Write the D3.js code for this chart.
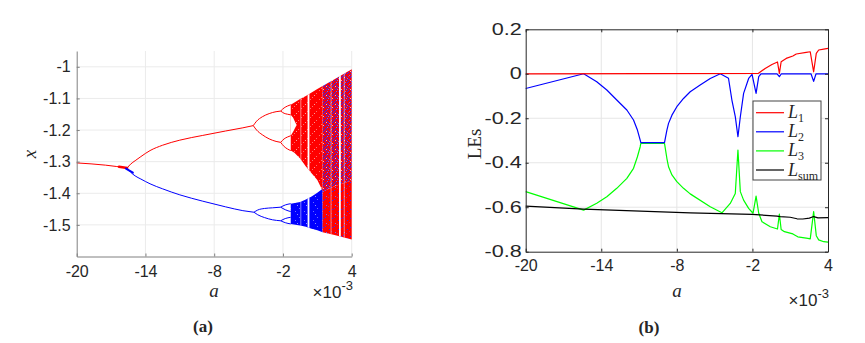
<!DOCTYPE html>
<html>
<head>
<meta charset="utf-8">
<script src="https://cdn.jsdelivr.net/npm/d3@7"></script>
<style>
body { margin: 0; background: #fff; }
svg { display: block; }
.tick text { font-family: "Liberation Sans", Arial, sans-serif; font-size: 16px; fill: #262626; }
.lbl { font-family: "Liberation Serif", "Times New Roman", serif; fill: #262626; }
.sans { font-family: "Liberation Sans", Arial, sans-serif; fill: #262626; }
</style>
</head>
<body>
<svg width="865" height="343"></svg>
<script>
const svg = d3.select('svg');

// ---------- data ----------
const xTicks = [-20, -14, -8, -2, 4];
const bifYTicks = [-1.5, -1.4, -1.3, -1.2, -1.1, -1];
const lesYTicks = [-0.8, -0.6, -0.4, -0.2, 0, 0.2];

// periodic branches of the bifurcation diagram, [a (x1e-3), x]
const redP1 = [[-20, -1.304], [-17.5, -1.311], [-15.6, -1.32]];
const redP2 = [[-15.6, -1.32], [-15.3, -1.308], [-14.9, -1.297], [-14.4, -1.284], [-13.6, -1.265],
  [-12.5, -1.248], [-11, -1.232], [-9, -1.217], [-7, -1.203], [-5.5, -1.193], [-4.59, -1.186]];
const redP4a = [[-4.59, -1.186], [-4.3, -1.172], [-3.8, -1.158], [-3.2, -1.148], [-2.6, -1.142], [-2.2, -1.14]];
const redP4b = [[-4.59, -1.186], [-4.3, -1.2], [-3.8, -1.215], [-3.2, -1.228], [-2.6, -1.236], [-2.2, -1.239]];
const redP8a = [[-2.2, -1.14], [-1.9, -1.13], [-1.6, -1.124], [-1.32, -1.12]];
const redP8b = [[-2.2, -1.14], [-1.9, -1.147], [-1.6, -1.15], [-1.32, -1.152]];
const redP8c = [[-2.2, -1.239], [-1.9, -1.228], [-1.6, -1.222], [-1.32, -1.218]];
const redP8d = [[-2.2, -1.239], [-1.9, -1.252], [-1.6, -1.26], [-1.32, -1.265]];
const redKnot = [[-16.3, -1.316], [-15.6, -1.32]];

const blueP2 = [[-15.6, -1.32], [-15.3, -1.333], [-14.9, -1.345], [-14.4, -1.355], [-13.6, -1.37],
  [-12.5, -1.386], [-11, -1.405], [-9, -1.425], [-7, -1.443], [-5.5, -1.455], [-4.53, -1.46]];
const blueP4a = [[-4.53, -1.46], [-4.2, -1.453], [-3.6, -1.448], [-2.9, -1.446], [-2.2, -1.444]];
const blueP4b = [[-4.53, -1.46], [-4.2, -1.468], [-3.6, -1.477], [-2.9, -1.484], [-2.2, -1.487]];
const blueP8a = [[-2.2, -1.444], [-1.8, -1.437], [-1.32, -1.433]];
const blueP8b = [[-2.2, -1.444], [-1.8, -1.452], [-1.32, -1.458]];
const blueP8c = [[-2.2, -1.487], [-1.8, -1.48], [-1.32, -1.476]];
const blueP8d = [[-2.2, -1.487], [-1.8, -1.493], [-1.32, -1.497]];
const blueKnot = [[-15.7, -1.322], [-15.1, -1.335]];

// chaotic bands, [a, upper edge, lower edge]
const redBand = [[-1.32, -1.12, -1.265], [-1.0, -1.113, -1.272], [-0.5, -1.102, -1.29], [0, -1.092, -1.315],
  [0.5, -1.081, -1.337], [1.0, -1.07, -1.358], [1.46, -1.061, -1.392]];
const redHole = [[-1.32, -1.152, -1.218], [-1.1, -1.162, -1.205], [-0.9, -1.178, -1.19], [-0.8, -1.184, -1.184]];
const blueBand = [[-1.32, -1.433, -1.497], [-0.5, -1.428, -1.502], [0, -1.42, -1.506], [0.5, -1.41, -1.512],
  [1.0, -1.398, -1.517], [1.46, -1.386, -1.523]];
const mixUpper = [[1.46, -1.061, -1.395], [2.5, -1.039, -1.378], [4, -1.008, -1.36]];
const mixLower = [[1.46, -1.395, -1.523], [2.5, -1.378, -1.532], [4, -1.36, -1.546]];
const windowsMain = [0.23, 2.97];
const windowsFaint = [-0.44, 2.2, 3.35];

// Lyapunov exponents, [a (x1e-3), value]
const L1 = [[-20, 0], [-1.52, 0.002], [-0.99, 0.024], [-0.45, 0.042], [-0.01, 0.053], [0.14, 0.002],
  [0.28, 0.054], [0.68, 0.069], [1.21, 0.08], [1.48, 0.089], [2.27, 0.096], [2.59, 0.099], [2.86, 0.009],
  [3.07, 0.092], [3.26, 0.107], [3.66, 0.111], [4, 0.114]];
const L2 = [[-20, -0.066], [-15.4, 0], [-14.36, -0.036], [-13.56, -0.073], [-12.77, -0.118], [-11.97, -0.163],
  [-11.44, -0.208], [-11.13, -0.253], [-10.91, -0.298], [-10.86, -0.31], [-8.98, -0.31], [-8.79, -0.253],
  [-8.66, -0.223], [-8.39, -0.186], [-8.0, -0.148], [-7.47, -0.111], [-6.94, -0.081], [-6.15, -0.051],
  [-5.35, -0.021], [-4.55, 0], [-3.9, -0.02], [-3.63, -0.118], [-3.36, -0.193], [-3.15, -0.283],
  [-2.96, -0.193], [-2.7, -0.088], [-2.3, -0.021], [-2.03, -0.003], [-1.71, -0.088], [-1.5, -0.013],
  [-1.32, 0], [-0.05, 0], [0.14, -0.013], [0.3, 0], [2.65, 0], [2.86, -0.034], [3.05, 0], [4, 0]];
const L3 = [[-20, -0.53], [-15.4, -0.613], [-14.36, -0.582], [-13.56, -0.553], [-12.77, -0.515],
  [-11.97, -0.47], [-11.44, -0.425], [-11.13, -0.373], [-10.91, -0.328], [-10.86, -0.313], [-8.98, -0.313],
  [-8.79, -0.381], [-8.66, -0.418], [-8.39, -0.455], [-8.0, -0.485], [-7.47, -0.515], [-6.94, -0.54],
  [-5.35, -0.598], [-4.42, -0.625], [-3.76, -0.583], [-3.36, -0.538], [-3.15, -0.343], [-2.96, -0.53],
  [-2.7, -0.568], [-2.3, -0.605], [-1.95, -0.627], [-1.71, -0.55], [-1.5, -0.627], [-1.24, -0.665],
  [-0.58, -0.688], [-0.01, -0.698], [0.14, -0.631], [0.28, -0.7], [0.54, -0.71], [1.21, -0.72],
  [1.6, -0.733], [2.4, -0.74], [2.59, -0.742], [2.86, -0.62], [3.07, -0.728], [3.26, -0.747],
  [3.66, -0.755], [4, -0.757]];
const Lsum = [[-20, -0.595], [-15.4, -0.609], [-6.94, -0.625], [-2.03, -0.632], [-0.05, -0.64],
  [0.2, -0.642], [1.0, -0.645], [1.54, -0.652], [2.0, -0.653], [2.52, -0.649], [2.86, -0.642],
  [3.2, -0.648], [4, -0.647]];

const legendNames = [['L', '1'], ['L', '2'], ['L', '3'], ['L', 'sum']];
const lesColors = ['#ff0000', '#0000ff', '#00ff00', '#000000'];

// ---------- helpers ----------
const fmt = d => String(d);

const defs = svg.append('defs');
// speckle textures for the chaotic bands (9x9 tiles)
const texture = (id, bg, dots) => {
  const p = defs.append('pattern').attr('id', id)
    .attr('patternUnits', 'userSpaceOnUse').attr('width', 9).attr('height', 9);
  p.append('rect').attr('width', 9).attr('height', 9).attr('fill', bg);
  dots.forEach(([x, y, c]) => p.append('rect').attr('x', x).attr('y', y)
    .attr('width', 1).attr('height', 1).attr('fill', c));
};
const P = '#ff6a6a', B = '#2a2aff', LB = '#6a6aff', PB = '#b03080';
texture('redTex', '#ff0000', [[1, 3, P], [6, 7, P], [4, 0, P], [8, 5, '#ff9a9a']]);
texture('blueTex', '#0000ff', [[2, 1, LB], [7, 4, LB], [0, 7, '#8c8cff']]);
texture('mixTex', '#f00010', [[0, 0, B], [5, 1, B], [2, 2, B], [7, 3, LB], [3, 4, B], [8, 5, B], [1, 6, B],
  [6, 7, B], [4, 8, LB], [6, 0, B], [1, 3, B], [4, 5, B], [3, 1, LB], [8, 2, B], [0, 4, B], [5, 6, LB],
  [2, 8, B], [7, 7, PB], [3, 7, B], [6, 4, PB], [8, 8, '#ffb0b0'], [2, 5, '#ffb0b0']]);
texture('mixLowTex', '#ff0000', [[1, 1, B], [5, 4, B], [2, 7, LB], [7, 6, PB], [8, 2, B], [4, 8, PB]]);

// ---------- (a) bifurcation diagram ----------
const xA = d3.scaleLinear().domain([-20, 4]).range([76.7, 351.7]);
const yA = d3.scaleLinear().domain([-1.6, -0.95]).range([256.5, 51]);

const gA = svg.append('g');

gA.append('g').selectAll('line').data(xTicks.slice(1)).enter().append('line')
  .attr('x1', d => xA(d)).attr('x2', d => xA(d))
  .attr('y1', yA.range()[0]).attr('y2', yA.range()[1])
  .attr('stroke', '#ebebeb').attr('stroke-width', 1);
gA.append('g').selectAll('line').data(bifYTicks).enter().append('line')
  .attr('x1', xA.range()[0]).attr('x2', xA.range()[1])
  .attr('y1', d => yA(d)).attr('y2', d => yA(d))
  .attr('stroke', '#ebebeb').attr('stroke-width', 1);

const bandArea = d3.area().x(d => xA(d[0])).y0(d => yA(d[2])).y1(d => yA(d[1]));
const branchLine = d3.line().x(d => xA(d[0])).y(d => yA(d[1])).curve(d3.curveMonotoneX);

const clip = defs.append('clipPath').attr('id', 'bands');
[redBand, blueBand, mixUpper, mixLower].forEach(b => clip.append('path').attr('d', bandArea(b)));

gA.append('path').attr('d', bandArea(redBand)).attr('fill', 'url(#redTex)');
gA.append('path').attr('d', bandArea(redHole)).attr('fill', '#fff');
gA.append('path').attr('d', bandArea(blueBand)).attr('fill', 'url(#blueTex)');
gA.append('path').attr('d', bandArea(mixUpper)).attr('fill', 'url(#mixTex)');
gA.append('path').attr('d', bandArea(mixLower)).attr('fill', 'url(#mixLowTex)');

const win = gA.append('g').attr('clip-path', 'url(#bands)');
win.selectAll('.wm').data(windowsMain).enter().append('line')
  .attr('x1', d => xA(d)).attr('x2', d => xA(d))
  .attr('y1', yA.range()[0]).attr('y2', yA.range()[1])
  .attr('stroke', '#fff').attr('stroke-width', 1.8);
win.selectAll('.wf').data(windowsFaint).enter().append('line')
  .attr('x1', d => xA(d)).attr('x2', d => xA(d))
  .attr('y1', yA.range()[0]).attr('y2', yA.range()[1])
  .attr('stroke', '#fff').attr('stroke-width', 1).attr('opacity', 0.5);

gA.selectAll('.rb').data([redP1, redP2, redP4a, redP4b, redP8a, redP8b, redP8c, redP8d]).enter()
  .append('path').attr('d', branchLine)
  .attr('fill', 'none').attr('stroke', '#ff0000').attr('stroke-width', 1);
gA.selectAll('.bb').data([blueP2, blueP4a, blueP4b, blueP8a, blueP8b, blueP8c, blueP8d]).enter()
  .append('path').attr('d', branchLine)
  .attr('fill', 'none').attr('stroke', '#0000ff').attr('stroke-width', 1);
gA.append('path').attr('d', branchLine(redKnot)).attr('fill', 'none')
  .attr('stroke', '#ff0000').attr('stroke-width', 2.6).attr('stroke-linecap', 'round');
gA.append('path').attr('d', branchLine(blueKnot)).attr('fill', 'none')
  .attr('stroke', '#0000ff').attr('stroke-width', 2).attr('stroke-linecap', 'round');

const xAxisA = gA.append('g').attr('transform', `translate(0,${yA.range()[0]})`)
  .call(d3.axisBottom(xA).tickValues(xTicks).tickFormat(fmt).tickSizeInner(-3).tickSizeOuter(0).tickPadding(9));
const yAxisA = gA.append('g').attr('transform', `translate(${xA.range()[0]},0)`)
  .call(d3.axisLeft(yA).tickValues(bifYTicks).tickFormat(fmt).tickSizeInner(-3).tickSizeOuter(0).tickPadding(6));
[xAxisA, yAxisA].forEach(ax => {
  ax.select('.domain').attr('stroke', '#808080');
  ax.selectAll('.tick line').attr('stroke', '#808080');
});

gA.append('text').attr('class', 'lbl').attr('transform', 'translate(36,154) rotate(-90)')
  .attr('text-anchor', 'middle').attr('font-style', 'italic').attr('font-size', 19).text('x');
gA.append('text').attr('class', 'lbl').attr('x', 214).attr('y', 297)
  .attr('text-anchor', 'middle').attr('font-style', 'italic').attr('font-size', 19).text('a');
const expA = gA.append('text').attr('class', 'sans').attr('x', 353).attr('y', 298)
  .attr('text-anchor', 'end').attr('font-size', 17);
expA.append('tspan').text('\u00d710');
expA.append('tspan').attr('dy', -8).attr('font-size', 13).text('-3');
gA.append('text').attr('class', 'lbl').attr('x', 203).attr('y', 332)
  .attr('text-anchor', 'middle').attr('font-weight', 'bold').attr('font-size', 17).text('(a)');

// ---------- (b) Lyapunov exponents ----------
const xB = d3.scaleLinear().domain([-20, 4]).range([525.7, 828]);
const yB = d3.scaleLinear().domain([-0.8, 0.2]).range([251.7, 29.3]);

const gB = svg.append('g');
gB.append('g').selectAll('line').data(xTicks.slice(1, -1)).enter().append('line')
  .attr('x1', d => xB(d)).attr('x2', d => xB(d))
  .attr('y1', yB.range()[0]).attr('y2', yB.range()[1])
  .attr('stroke', '#e6e6e6').attr('stroke-width', 1);
gB.append('g').selectAll('line').data(lesYTicks.slice(1, -1)).enter().append('line')
  .attr('x1', xB.range()[0]).attr('x2', xB.range()[1])
  .attr('y1', d => yB(d)).attr('y2', d => yB(d))
  .attr('stroke', '#e6e6e6').attr('stroke-width', 1);

const lesLine = d3.line().x(d => xB(d[0])).y(d => yB(d[1]));
gB.append('g').selectAll('path').data([L3, L2, Lsum, L1]).enter().append('path')
  .attr('d', lesLine).attr('fill', 'none')
  .attr('stroke', d => lesColors[[L1, L2, L3, Lsum].indexOf(d)])
  .attr('stroke-width', 1.2).attr('stroke-linejoin', 'round');

const axB = [
  gB.append('g').attr('transform', `translate(0,${yB.range()[0]})`)
    .call(d3.axisBottom(xB).tickValues(xTicks).tickFormat(fmt).tickSizeInner(-3).tickSizeOuter(0).tickPadding(8)),
  gB.append('g').attr('transform', `translate(0,${yB.range()[1]})`)
    .call(d3.axisTop(xB).tickValues(xTicks).tickFormat('').tickSizeInner(-3).tickSizeOuter(0)),
  gB.append('g').attr('transform', `translate(${xB.range()[0]},0)`)
    .call(d3.axisLeft(yB).tickValues(lesYTicks).tickFormat(fmt).tickSizeInner(-3).tickSizeOuter(0).tickPadding(4)),
  gB.append('g').attr('transform', `translate(${xB.range()[1]},0)`)
    .call(d3.axisRight(yB).tickValues(lesYTicks).tickFormat('').tickSizeInner(-3).tickSizeOuter(0))
];
axB.forEach(ax => {
  ax.select('.domain').attr('stroke', '#262626');
  ax.selectAll('.tick line').attr('stroke', '#262626');
});
// the y labels of panel (b) are drawn wider in the original
axB[2].selectAll('.tick text').attr('x', -4 / 1.35).attr('transform', 'scale(1.35,1)');

// legend
const leg = gB.append('g').attr('transform', 'translate(753,101)');
leg.append('rect').attr('width', 68).attr('height', 79)
  .attr('fill', '#fff').attr('stroke', '#444').attr('stroke-width', 1);
const rows = leg.selectAll('.row').data(legendNames).enter().append('g')
  .attr('transform', (d, i) => `translate(0,${11.7 + i * 19.1})`);
rows.append('line').attr('x1', 3).attr('x2', 31).attr('y1', 0).attr('y2', 0)
  .attr('stroke', (d, i) => lesColors[i]).attr('stroke-width', 1.2);
const lt = rows.append('text').attr('class', 'lbl').attr('x', 35).attr('y', 5.5).attr('font-size', 18);
lt.append('tspan').attr('font-style', 'italic').text(d => d[0]);
lt.append('tspan').attr('dy', 4).attr('font-size', 12).text(d => d[1]);

gB.append('text').attr('class', 'lbl').attr('transform', 'translate(481,144) rotate(-90)')
  .attr('text-anchor', 'middle').attr('font-size', 19).text('LEs');
gB.append('text').attr('class', 'lbl').attr('x', 677).attr('y', 297)
  .attr('text-anchor', 'middle').attr('font-style', 'italic').attr('font-size', 19).text('a');
const expB = gB.append('text').attr('class', 'sans').attr('x', 829).attr('y', 306)
  .attr('text-anchor', 'end').attr('font-size', 17);
expB.append('tspan').text('\u00d710');
expB.append('tspan').attr('dy', -8).attr('font-size', 13).text('-3');
gB.append('text').attr('class', 'lbl').attr('x', 649).attr('y', 333)
  .attr('text-anchor', 'middle').attr('font-weight', 'bold').attr('font-size', 17).text('(b)');
</script>
</body>
</html>
